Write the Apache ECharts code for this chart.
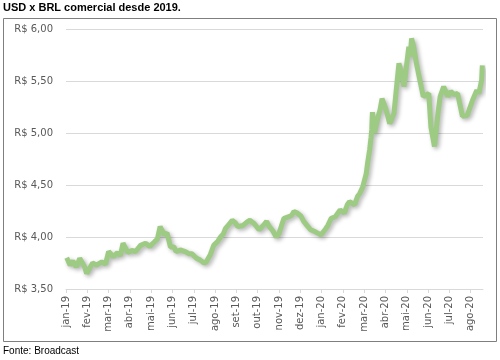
<!DOCTYPE html>
<html>
<head>
<meta charset="utf-8">
<script src="https://cdn.jsdelivr.net/npm/echarts@6/dist/echarts.min.js"></script>
<style>
html,body{margin:0;padding:0;background:#fff;}
#chart{width:500px;height:360px;}
</style>
</head>
<body>
<div id="chart"></div>
<script>
// Tick labels for the monthly x axis (jan-19 ... ago-20)
var monthLabels = ['jan-19','fev-19','mar-19','abr-19','mai-19','jun-19','jul-19','ago-19','set-19','out-19','nov-19','dez-19','jan-20','fev-20','mar-20','abr-20','mai-20','jun-20','jul-20','ago-20'];

// Dates of the readings
var dates = [
 '2019-01-02','2019-01-07','2019-01-11','2019-01-16','2019-01-21','2019-01-28','2019-01-31',
 '2019-02-08','2019-02-13','2019-02-20','2019-02-25','2019-03-01','2019-03-08','2019-03-14','2019-03-18','2019-03-22','2019-03-29',
 '2019-04-04','2019-04-09','2019-04-16','2019-04-23','2019-04-29','2019-05-06','2019-05-10','2019-05-14','2019-05-20','2019-05-24','2019-05-29',
 '2019-06-03','2019-06-06','2019-06-12','2019-06-19','2019-06-24','2019-06-28','2019-07-05','2019-07-10','2019-07-16','2019-07-19','2019-07-25','2019-07-30',
 '2019-08-05','2019-08-09','2019-08-13','2019-08-16','2019-08-21','2019-08-26','2019-08-30','2019-09-03','2019-09-10','2019-09-17','2019-09-20','2019-09-26',
 '2019-10-03','2019-10-09','2019-10-14','2019-10-18','2019-10-23','2019-10-28','2019-11-01','2019-11-08','2019-11-15','2019-11-19','2019-11-22','2019-11-27',
 '2019-12-02','2019-12-06','2019-12-11','2019-12-16','2019-12-23','2019-12-31',
 '2020-01-07','2020-01-10','2020-01-15','2020-01-21','2020-01-28','2020-02-03','2020-02-07','2020-02-10','2020-02-17','2020-02-21','2020-02-24','2020-02-28',
 '2020-03-04','2020-03-06','2020-03-09','2020-03-11','2020-03-12','2020-03-13','2020-03-16','2020-03-20','2020-03-24','2020-03-27','2020-04-02','2020-04-07','2020-04-13',
 '2020-04-16','2020-04-20','2020-04-24','2020-04-27','2020-05-04','2020-05-06','2020-05-08','2020-05-11','2020-05-15','2020-05-20','2020-05-25',
 '2020-06-02','2020-06-05','2020-06-10','2020-06-15','2020-06-18','2020-06-23','2020-06-29','2020-07-03','2020-07-08','2020-07-13','2020-07-20','2020-07-27',
 '2020-08-04','2020-08-10','2020-08-13','2020-08-17','2020-08-18'
];
// USD/BRL rate (R$) at each date
var rates = [
 3.80,3.73,3.77,3.71,3.795,3.715,3.65,
 3.75,3.73,3.76,3.74,3.86,3.81,3.85,3.82,3.94,3.85,
 3.87,3.86,3.92,3.94,3.91,3.955,3.98,4.10,4.02,4.04,3.905,
 3.905,3.86,3.875,3.86,3.84,3.84,3.795,3.78,3.75,3.76,3.83,3.92,
 3.96,4.00,4.03,4.08,4.12,4.16,4.14,4.10,4.11,4.15,4.16,4.13,
 4.07,4.11,4.15,4.10,4.06,4.00,4.035,4.18,4.195,4.21,4.245,4.23,
 4.20,4.15,4.11,4.07,4.05,4.02,
 4.08,4.11,4.18,4.195,4.26,4.23,4.31,4.34,4.31,4.39,4.42,4.48,
 4.61,4.71,4.84,4.96,5.03,5.20,5.00,5.125,5.22,5.33,5.22,5.09,5.19,
 5.40,5.67,5.57,5.445,5.83,5.735,5.91,5.83,5.67,5.51,5.35,
 5.38,5.06,4.87,5.19,5.35,5.445,5.35,5.40,5.37,5.38,5.16,5.17,
 5.32,5.41,5.38,5.51,5.65
];

function monthIndex(s){
  var p = s.split('-'), y = +p[0], m = +p[1], d = +p[2];
  var dim = new Date(y, m, 0).getDate();
  return (y - 2019) * 12 + (m - 1) + (d - 1) / dim;
}
var seriesData = dates.map(function(d, i){ return [monthIndex(d), rates[i]]; });
var tickVals = monthLabels.map(function(_, i){ return i; });

var chart = echarts.init(document.getElementById('chart'), null, {renderer:'canvas'});
var gray = '#595959';
chart.setOption({
  animation:false,
  backgroundColor:'#fff',
  grid:{left:66, right:17, top:29, bottom:71, containLabel:false},
  xAxis:{
    type:'value', min:0, max:19.58, interval:1,
    axisLine:{show:true, lineStyle:{color:'#d9d9d9', width:1}},
    axisTick:{show:true, length:4, lineStyle:{color:'#d9d9d9'}, customValues:tickVals},
    splitLine:{show:false},
    axisLabel:{
      customValues:tickVals,
      rotate:90, margin:7, color:gray, fontFamily:'DejaVu Sans', fontSize:10,
      formatter:function(v){ var i = Math.round(v); return (Math.abs(v-i)<1e-6 && monthLabels[i]) ? monthLabels[i] : ''; }
    }
  },
  yAxis:{
    type:'value', min:3.5, max:6, interval:0.5,
    axisLine:{show:false}, axisTick:{show:false},
    splitLine:{show:true, lineStyle:{color:'#d9d9d9', width:1}},
    axisLabel:{
      margin:13, color:gray, fontFamily:'DejaVu Sans', fontSize:10,
      formatter:function(v){ return 'R$ ' + v.toFixed(2).replace('.', ','); }
    }
  },
  series:[{
    type:'line', data:seriesData, showSymbol:false, smooth:false,
    lineStyle:{color:'#9dcb83', width:5, shadowColor:'rgba(0,0,0,0.3)', shadowBlur:4, shadowOffsetX:2, shadowOffsetY:2},
    itemStyle:{color:'#9dcb83'}
  }],
  graphic:[
    {type:'rect', shape:{x:3.5, y:18.5, width:493, height:323}, style:{fill:null, stroke:'#7f7f7f', lineWidth:1}, silent:true, z:-1},
    {type:'text', left:3, top:2, style:{text:'USD x BRL comercial desde 2019.', font:'bold 11px "Liberation Sans"', fill:'#000'}},
    {type:'text', left:3, top:346, style:{text:'Fonte: Broadcast', font:'10px "Liberation Sans"', fill:'#000'}}
  ]
});
</script>
</body>
</html>
